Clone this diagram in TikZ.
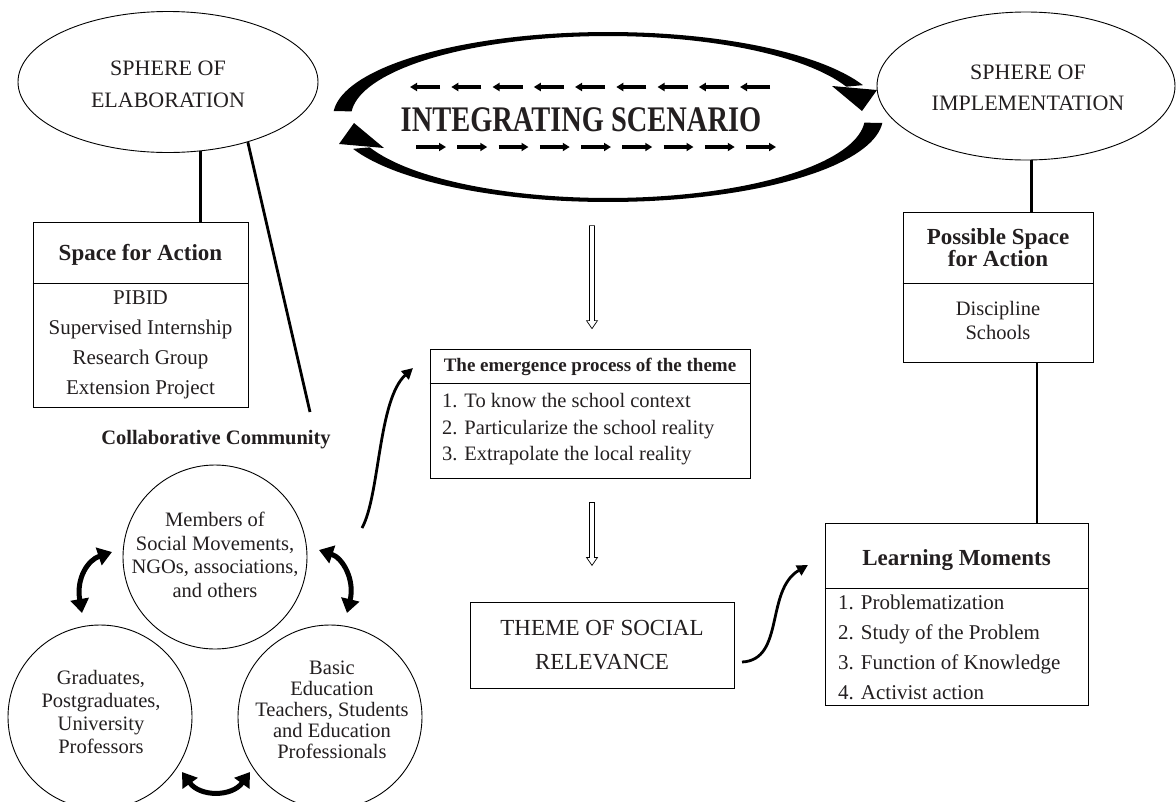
\documentclass[tikz,border=0pt]{standalone}
\usepackage{fontspec}
\setmainfont{Liberation Serif}
\usetikzlibrary{arrows.meta,shapes.geometric,calc}
\definecolor{txt}{RGB}{35,31,32}
\tikzset{
  box/.style={draw, line width=0.8pt, rectangle},
  sph/.style={draw, ellipse, line width=0.9pt},
  circ/.style={draw, circle, line width=0.9pt, minimum size=184pt},
  conn/.style={line width=2.8pt},
  divl/.style={line width=0.8pt},
  carrow/.style={line width=2.8pt, -{Triangle[length=11pt,width=11pt]}},
  darrow/.style={line width=5pt, {Triangle[length=14pt,width=18pt]}-{Triangle[length=14pt,width=18pt]}},
  dsh/.style={line width=3.4pt, -{Triangle[length=7pt,width=8pt]}},
  pics/harrow/.style={code={
    \draw[line width=0.7pt, fill=white] (-2.5,0) -- (-2.5,{#1-8}) -- (-5.5,{#1-8}) -- (0,#1) -- (5.5,{#1-8}) -- (2.5,{#1-8}) -- (2.5,0) -- cycle;}}
}
\begin{document}
\begin{tikzpicture}[x=1pt,y=-1pt, every node/.style={text=txt, inner sep=0pt}]
\useasboundingbox (0,0) rectangle (1176,801);

% ---- Sphere of elaboration
\node[sph, minimum width=300pt, minimum height=141pt] (elab) at (168,82) {};
\node[font=\fontsize{22}{32}\selectfont, align=center] (elabt) at (168,84) {SPHERE OF\\ELABORATION};

% ---- Space for action
\node[box, minimum width=215pt, minimum height=185pt] (sfa) at (140.5,314.5) {};
\draw[divl] (sfa.west |- 0,283) -- (sfa.east |- 0,283);
\node[font=\bfseries\fontsize{23}{27}\selectfont] (sfat) at (140.5,255) {Space for Action};
\node[font=\fontsize{21}{30}\selectfont, align=center] (sfai) at (140.5,345) {PIBID\\Supervised Internship\\Research Group\\Extension Project};

\draw[conn] (elab.-65) -- (elab.-65 |- sfa.north);
\coordinate (ccend) at (310,412);
\draw[conn] (elab.-37) -- (ccend);

% ---- Collaborative community
\node[font=\bfseries\fontsize{20.5}{24}\selectfont] (cct) at (216,440) {Collaborative Community};
\node[circ] (mem) at (215,557) {};
\node[font=\fontsize{20.5}{23.5}\selectfont, align=center] (memt) at (215,555) {Members of\\Social Movements,\\NGOs, associations,\\and others};
\node[circ] (gra) at (100,717) {};
\node[font=\fontsize{20.5}{23}\selectfont, align=center] (grat) at (101,712) {Graduates,\\Postgraduates,\\University\\Professors};
\node[circ] (bas) at (330,717) {};
\node[font=\fontsize{20.5}{21}\selectfont, align=center] (bast) at (332,709.5) {Basic\\Education\\Teachers, Students\\and Education\\Professionals};

\coordinate (la1) at (82,613); \coordinate (la2) at (112,552);
\draw[darrow] (la1) .. controls (76,578) and (88,560) .. (la2);
\coordinate (ra1) at (319,550); \coordinate (ra2) at (347,613);
\draw[darrow] (ra1) .. controls (343,558) and (355,580) .. (ra2);
\coordinate (ba1) at (182,772); \coordinate (ba2) at (250,772);
\draw[darrow] (ba1) .. controls (200,797) and (232,797) .. (ba2);

% ---- Integrating scenario
\node[ellipse, minimum width=550pt, minimum height=170pt] (isc) at (608,117) {};
\fill[black] plot[domain=184:338, samples=70] ({608+275*cos(\x)},{117+85*sin(\x)})
   -- plot[domain=338:184, samples=70] ({608+257*cos(\x)},{117+81*sin(\x)}) -- cycle;
\fill[black] (832,86) -- (877,90) -- (862,111) -- cycle;
\begin{scope}[rotate around={180:(608,117)}]
\fill[black] plot[domain=184:338, samples=70] ({608+275*cos(\x)},{117+85*sin(\x)})
   -- plot[domain=338:184, samples=70] ({608+257*cos(\x)},{117+81*sin(\x)}) -- cycle;
\fill[black] (832,86) -- (877,90) -- (862,111) -- cycle;
\end{scope}
\node[font=\bfseries\fontsize{36}{40}\selectfont] (isct) at (581,119.5) {\scalebox{0.79}[1]{INTEGRATING SCENARIO}};
\foreach \i in {0,...,8} \draw[dsh] ({440+\i*41.25},87) -- ({410+\i*41.25},87);
\foreach \i in {0,...,8} \draw[dsh] ({416+\i*41.25},147) -- ({446+\i*41.25},147);

% ---- Emergence process
\node[box, minimum width=320pt, minimum height=129pt] (emg) at (590,413.5) {};
\draw[divl] (emg.west |- 0,383) -- (emg.east |- 0,383);
\node[font=\bfseries\fontsize{19}{22}\selectfont] (emgt) at (590,367) {The emergence process of the theme};
\node[font=\fontsize{20.5}{26.5}\selectfont, align=left, anchor=west] (emgi) at (442,429.5) {1. To know the school context\\2. Particularize the school reality\\3. Extrapolate the local reality};

\pic at ($(emg.north)+(2,-123)$) {harrow=103};
\pic at ($(emg.south)+(2,24)$) {harrow=63};

% ---- Theme
\node[box, minimum width=264pt, minimum height=86pt] (thm) at (602,645) {};
\node[font=\fontsize{23}{34}\selectfont, align=center] (thmt) at (602,645) {THEME OF SOCIAL\\RELEVANCE};

\coordinate (m1) at (362,528); \coordinate (m2) at (413,368);
\draw[carrow] (m1) .. controls (380,495) and (378,400) .. (m2);
\coordinate (t1) at (742,662); \coordinate (t2) at (808,565);
\draw[carrow] (t1) .. controls (785,660) and (765,590) .. (t2);

% ---- Sphere of implementation
\node[sph, minimum width=298pt, minimum height=148pt] (impl) at (1026,86) {};
\node[font=\fontsize{22}{31}\selectfont, align=center] (implt) at (1028,87.5) {SPHERE OF\\IMPLEMENTATION};

\node[box, minimum width=190pt, minimum height=150pt] (psa) at (998,287) {};
\draw[divl] (psa.west |- 0,283) -- (psa.east |- 0,283);
\node[font=\bfseries\fontsize{23}{21}\selectfont, align=center] (psat) at (998,247.5) {Possible Space\\for Action};
\node[font=\fontsize{20.5}{24}\selectfont, align=center] (psai) at (998,320) {Discipline\\Schools};
\draw[conn] (impl.-86) -- (impl.-86 |- psa.north);

% ---- Learning moments
\node[box, minimum width=263pt, minimum height=182pt] (lm) at (956.5,614) {};
\draw[divl] (lm.west |- 0,588) -- (lm.east |- 0,588);
\node[font=\bfseries\fontsize{23}{27}\selectfont] (lmt) at (956.5,560) {Learning Moments};
\node[font=\fontsize{21}{30}\selectfont, align=left, anchor=west] (lmi) at (838,647) {1. Problematization\\2. Study of the Problem\\3. Function of Knowledge\\4. Activist action};
\draw[conn] ([xshift=39pt]psa.south) -- ([xshift=39pt]psa.south |- lm.north);
\end{tikzpicture}
\end{document}
